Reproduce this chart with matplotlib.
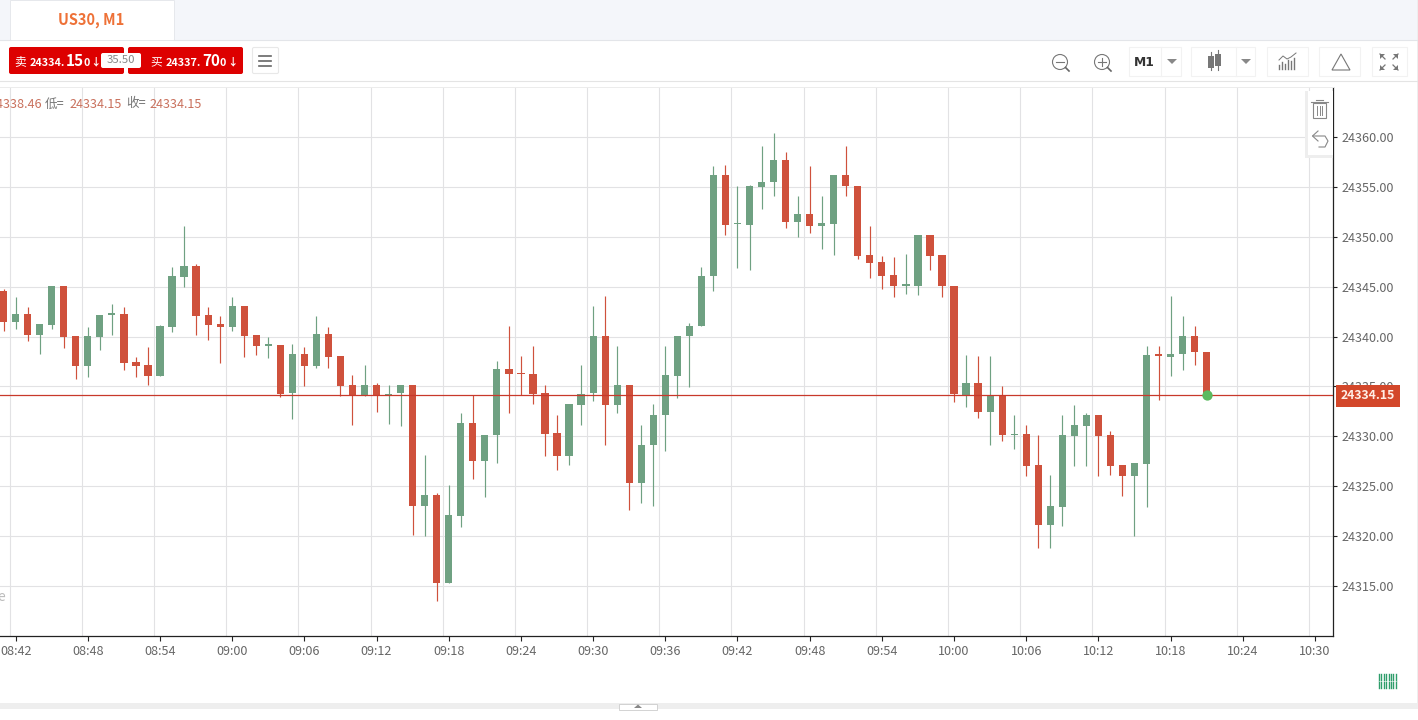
import matplotlib
matplotlib.use('Agg')
import matplotlib.pyplot as plt
from matplotlib.patches import Rectangle, FancyBboxPatch, Circle, Polygon

plt.rcParams['font.family'] = ['Noto Sans CJK SC', 'DejaVu Sans']

# first candle is 08:41, one candle per minute up to 10:21
first_minute = 8 * 60 + 41
opens = [344.6, 341.5, 342.3, 340.2, 341.2, 345.1, 340.1, 337.0, 340.0, 342.2,
         342.3, 337.4, 337.1, 336.0, 341.0, 346.0, 347.1, 342.2, 341.3, 341.0,
         343.1, 340.2, 339.1, 339.2, 334.3, 338.3, 337.0, 340.3, 338.1, 335.1,
         334.0, 335.1, 334.0, 334.3, 335.1, 323.0, 324.1, 315.3, 322.0, 331.3,
         327.5, 330.1, 336.7, 336.3, 336.2, 334.3, 330.3, 328.0, 333.1, 334.3,
         340.1, 333.1, 335.1, 325.3, 329.1, 332.1, 336.0, 340.1, 341.1, 346.1,
         356.2, 351.25, 351.2, 355.0, 355.5, 357.7, 351.45, 352.3, 351.05, 351.25,
         356.15, 355.1, 348.15, 347.5, 346.15, 345.1, 345.05, 350.15, 348.15, 345.1,
         334.15, 335.3, 332.4, 334.1, 330.15, 330.2, 327.1, 321.15, 322.95, 330.05,
         331.05, 332.1, 330.1, 327.1, 326.05, 327.25, 338.2, 338.0, 338.25, 340.1,
         338.46]
highs = [344.8, 344.0, 343.0, 341.3, 345.1, 345.1, 340.1, 341.0, 342.2, 343.3,
         343.0, 338.0, 339.0, 341.2, 347.0, 351.1, 347.3, 343.0, 342.1, 344.0,
         343.1, 340.2, 340.0, 339.2, 339.3, 339.0, 342.1, 341.0, 338.1, 336.1,
         337.1, 335.3, 335.1, 335.1, 335.1, 328.1, 324.3, 325.1, 332.3, 334.1,
         330.1, 337.6, 341.1, 338.1, 339.1, 335.1, 332.1, 333.2, 337.1, 343.1,
         344.1, 339.1, 335.1, 331.1, 333.2, 339.1, 340.1, 341.4, 347.0, 357.1,
         357.2, 355.1, 355.2, 359.1, 360.35, 358.5, 354.1, 357.1, 354.1, 356.15,
         359.1, 355.1, 351.1, 348.1, 348.0, 348.3, 350.15, 350.15, 348.15, 345.1,
         338.2, 338.05, 338.05, 335.05, 332.1, 331.1, 330.1, 326.1, 332.1, 333.15,
         332.3, 332.1, 330.5, 327.1, 327.3, 339.1, 339.1, 344.1, 342.1, 341.1,
         338.46]
lows = [340.6, 340.8, 339.6, 338.3, 340.8, 338.9, 335.7, 335.9, 338.7, 340.2,
        336.6, 335.9, 335.1, 336.0, 340.5, 345.0, 340.2, 339.7, 337.3, 340.6,
        338.0, 338.2, 337.9, 333.9, 331.7, 335.0, 336.8, 336.8, 334.0, 331.1,
        334.0, 332.4, 331.2, 331.0, 320.1, 320.0, 313.5, 315.3, 320.9, 325.7,
        323.9, 327.3, 332.3, 334.1, 333.2, 328.0, 326.6, 327.1, 331.1, 333.5,
        329.1, 332.3, 322.6, 323.3, 323.0, 328.5, 333.8, 334.9, 341.1, 344.6,
        350.2, 346.9, 346.7, 352.8, 354.1, 350.85, 350.0, 350.4, 348.75, 348.2,
        354.05, 347.75, 345.9, 344.75, 344.0, 344.3, 344.15, 346.7, 344.0, 333.4,
        332.9, 331.85, 329.1, 329.55, 328.7, 326.0, 318.8, 318.8, 321.05, 327.05,
        327.05, 326.0, 326.15, 324.05, 320.0, 322.95, 333.65, 336.0, 336.65, 337.15,
        334.15]
closes = [341.5, 342.3, 340.2, 341.3, 345.1, 340.0, 337.0, 340.1, 342.2, 342.3,
          337.3, 337.0, 336.0, 341.1, 346.1, 347.1, 342.1, 341.2, 341.0, 343.1,
          340.1, 339.1, 339.2, 334.2, 338.3, 337.0, 340.3, 338.0, 335.0, 334.0,
          335.1, 334.0, 334.2, 335.1, 323.0, 324.1, 315.3, 322.1, 331.3, 327.5,
          330.1, 336.7, 336.2, 336.2, 334.2, 330.2, 328.0, 333.2, 334.2, 340.1,
          333.1, 335.1, 325.3, 329.1, 332.1, 336.1, 340.1, 341.1, 346.1, 356.2,
          351.2, 351.3, 355.1, 355.5, 357.7, 351.45, 352.3, 351.05, 351.35, 356.15,
          355.05, 348.05, 347.4, 346.05, 345.05, 345.15, 350.15, 348.05, 345.05, 334.2,
          335.3, 332.4, 334.1, 330.1, 330.2, 327.05, 321.15, 323.05, 330.1, 331.1,
          332.1, 330.05, 327.05, 326.05, 327.3, 338.2, 338.1, 338.3, 340.1, 338.5,
          334.15]
base_price = 24000
last_price = 24334.15

y_ticks = [24315, 24320, 24325, 24330, 24335, 24340, 24345, 24350, 24355, 24360]
x_labels = ['08:42', '08:48', '08:54', '09:00', '09:06', '09:12', '09:18', '09:24', '09:30',
            '09:36', '09:42', '09:48', '09:54', '10:00', '10:06', '10:12', '10:18', '10:24', '10:30']

UP = '#6fa182'
DOWN = '#cf513c'


def to_minutes(label):
    h, m = label.split(':')
    return int(h) * 60 + int(m)


fig = plt.figure(figsize=(14.18, 7.2), dpi=100, facecolor='white')
W, H = 1418.0, 720.0

ax = fig.add_axes([0, (H - 636) / H, 1333 / W, (636 - 87) / H])
ax.set_xlim(520.7, 631.5)
ax.set_ylim(24310.0, 24365.0)

# grid is shifted half a minute left of the tick marks in the original
for lab in x_labels:
    ax.axvline(to_minutes(lab) - 0.5, color='#e2e2e4', lw=0.8, zorder=1)
for p in y_ticks:
    ax.axhline(p, color='#e2e2e4', lw=0.8, zorder=1)

for i in range(len(opens)):
    t = first_minute + i
    o = base_price + opens[i]
    c = base_price + closes[i]
    col = DOWN if closes[i] < opens[i] else UP
    ax.vlines(t, base_price + lows[i], base_price + highs[i], color=col, lw=0.85, zorder=2)
    body = max(abs(c - o), 0.12)
    ax.bar(t, body, bottom=min(o, c), width=0.6, color=col, lw=0, zorder=3)

ax.axhline(last_price, color='#c8392b', lw=0.9, zorder=4)
ax.scatter([first_minute + len(opens) - 1], [last_price], s=55, color='#5cba5f', lw=0, zorder=5)

ax.spines['left'].set_visible(False)
ax.spines['top'].set_visible(False)
ax.spines['right'].set_color('#222222')
ax.spines['bottom'].set_color('#222222')
ax.spines['right'].set_linewidth(0.9)
ax.spines['bottom'].set_linewidth(0.9)
ax.yaxis.tick_right()
ax.set_yticks(y_ticks)
ax.set_yticklabels(['%.2f' % p for p in y_ticks])
ax.set_xticks([to_minutes(lab) for lab in x_labels])
ax.set_xticklabels(x_labels)
ax.tick_params(axis='both', colors='#222222', labelcolor='#666666', labelsize=9.1,
               length=3.5, width=0.8)
ax.tick_params(axis='x', pad=3)
ax.tick_params(axis='y', length=3, pad=3)

# everything around the chart, in screen pixels
ui = fig.add_axes([0, 0, 1, 1], facecolor='none')
ui.set_xlim(0, W)
ui.set_ylim(H, 0)
ui.axis('off')

# tab bar
ui.add_patch(Rectangle((0, 0), W, 39.5, fc='#f4f6fa', ec='none'))
ui.add_patch(Rectangle((10, 0), 164, 39.5, fc='white', ec='#e6e8ec', lw=0.7))
ui.plot([0, 10], [39.5, 39.5], color='#e3e5e9', lw=0.8)
ui.plot([174, W], [39.5, 39.5], color='#e3e5e9', lw=0.8)
ui.text(91.5, 19.5, 'US30, M1', color='#ee7137', fontsize=10.5, fontweight='bold', ha='center', va='center')

# toolbar
ui.plot([0, W], [81, 81], color='#e4e4e4', lw=0.8)
ui.add_patch(Rectangle((0, 81.5), W, 5.5, fc='white', ec='none'))
ui.plot([0, 1333], [87.3, 87.3], color='#ececec', lw=0.7)


def red_button(x0, x1):
    ui.add_patch(FancyBboxPatch((x0 + 2, 49), x1 - x0 - 4, 23, boxstyle='round,pad=2',
                                fc='#dd0000', ec='none'))


red_button(9, 124)
red_button(128, 243)
ui.add_patch(FancyBboxPatch((103, 55), 36, 11, boxstyle='round,pad=2', fc='white', ec='none'))
ui.text(121, 60, '35.50', color='#888888', fontsize=8.2, ha='center', va='center')
button_texts = [(14, '卖', 30, '24334.', 66, '15', 84, '0', 90, '↓'),
                (150, '买', 166, '24337.', 202, '70', 220, '0', 227, '↓')]
for xs, side, xa, small, xb, big, xc, tail, xd, arrow in button_texts:
    ui.text(xs, 62, side, color='white', fontsize=8.5, va='center')
    ui.text(xa, 62.5, small, color='white', fontsize=7.8, fontweight='bold', va='center')
    ui.text(xb, 61, big, color='white', fontsize=11, fontweight='bold', va='center')
    ui.text(xc, 62.5, tail, color='white', fontsize=7.8, fontweight='bold', va='center')
    ui.text(xd, 62.5, arrow, color='white', fontsize=7.5, fontweight='bold', va='center')

ui.add_patch(FancyBboxPatch((254, 49), 23, 23, boxstyle='round,pad=1.5', fc='white', ec='#e8e8e8', lw=0.8))
for yy in [56, 61, 66]:
    ui.plot([259, 271], [yy, yy], color='#666666', lw=1.2)

# zoom icons
for cx, plus in [(1060, False), (1102, True)]:
    ui.add_patch(Circle((cx, 62), 7.5, fc='none', ec='#777777', lw=0.8))
    ui.plot([cx + 5.5, cx + 9], [67.5, 71], color='#666666', lw=1.2)
    ui.plot([cx - 4, cx + 4], [62, 62], color='#777777', lw=0.8)
    if plus:
        ui.plot([cx, cx], [58, 66], color='#777777', lw=0.8)

# toolbar boxes
for x0, x1 in [(1129, 1181), (1191, 1255), (1267, 1308), (1319, 1360), (1372, 1407)]:
    ui.add_patch(Rectangle((x0, 47), x1 - x0, 29, fc='white', ec='#f2f2f2', lw=0.8))
ui.plot([1160.5, 1160.5], [47, 76], color='#f2f2f2', lw=0.8)
ui.plot([1235.5, 1235.5], [47, 76], color='#f2f2f2', lw=0.8)
ui.text(1144, 62, 'M1', color='#333333', fontsize=8.8, fontweight='bold', ha='center', va='center',
        family='DejaVu Sans')
for cx in [1172, 1246]:
    ui.add_patch(Polygon([(cx - 5, 59), (cx + 5, 59), (cx, 64)], fc='#888888', ec='none'))
# candle icon
for cx, top, bot in [(1211, 52, 70), (1218, 50, 70)]:
    ui.plot([cx, cx], [top, bot], color='#777777', lw=0.8)
ui.add_patch(Rectangle((1208, 56), 6, 12, fc='#777777', ec='none'))
ui.add_patch(Rectangle((1215, 54), 6, 12, fc='#777777', ec='none'))
# indicators icon
for k, hh in enumerate([4, 7, 5, 9, 8, 11]):
    ui.plot([1279 + k * 3, 1279 + k * 3], [69, 69 - hh], color='#777777', lw=1.0)
ui.plot([1279, 1283, 1287, 1291, 1296], [60, 56, 59, 57, 53], color='#777777', lw=0.7)
# triangle and fullscreen
ui.add_patch(Polygon([(1332, 70), (1350, 70), (1341, 54)], fc='none', ec='#777777', lw=0.8))
for sx, sy in [(-1, -1), (1, -1), (-1, 1), (1, 1)]:
    ax0, ay0 = 1389 + sx * 9, 62 + sy * 8
    ui.add_patch(Polygon([(ax0, ay0), (ax0 - sx * 5, ay0), (ax0, ay0 - sy * 5)], fc='#777777', ec='none'))
    ui.plot([ax0, ax0 - sx * 5], [ay0, ay0 - sy * 5], color='#777777', lw=0.9)

# values line under the toolbar
ui.text(42, 104, '24338.46', color='#c9705c', fontsize=9.1, ha='right', va='center')
ui.text(45, 104, '低=', color='#777777', fontsize=9.1, va='center')
ui.text(70, 104, '24334.15', color='#c9705c', fontsize=9.1, va='center')
ui.text(126, 104, '收=', color='#777777', fontsize=9.1, va='center')
ui.text(150, 104, '24334.15', color='#c9705c', fontsize=9.1, va='center')

# trash / undo panel
ui.add_patch(Rectangle((1305, 91), 3, 67, fc='#eeeeee', ec='none'))
ui.add_patch(Rectangle((1305, 155), 28, 3, fc='#eeeeee', ec='none'))
ui.add_patch(Rectangle((1308, 91), 25, 64, fc='white', ec='none'))
ui.add_patch(Rectangle((1313, 103), 13, 15, fc='none', ec='#888888', lw=0.8))
ui.plot([1311, 1328], [102, 102], color='#888888', lw=0.8)
ui.plot([1316, 1323], [100, 100], color='#888888', lw=0.8)
for xx in [1317, 1319.5, 1322]:
    ui.plot([xx, xx], [106, 115], color='#888888', lw=0.7)
ui.plot([1313, 1319, 1325, 1328, 1325, 1319],
        [136, 136, 136, 141, 147, 147], color='#888888', lw=0.8)
ui.plot([1318, 1312.5, 1318], [131, 136, 141], color='#888888', lw=0.8)

# last price tag
ui.add_patch(Rectangle((1336, 385), 64, 22, fc='#d3472a', ec='none'))
ui.text(1368, 395.5, '24334.15', color='#ffeee6', fontsize=8.8, fontweight='bold', ha='center', va='center')

# bottom bits
ui.text(-3, 597, 'e', color='#bbbbbb', fontsize=10, va='center')
for k in range(8):
    xx = 1379 + k * 2.4
    ui.plot([xx, xx], [674, 688], color='#2f9e6b', lw=1.0)
ui.plot([1379, 1396], [680.5, 680.5], color='white', lw=0.4)
ui.add_patch(Rectangle((0, 703), W, 5.5, fc='#eeeeee', ec='none'))
ui.add_patch(Rectangle((619, 704), 38, 6, fc='white', ec='#cccccc', lw=0.6))
ui.add_patch(Polygon([(634, 708), (642, 708), (638, 704.5)], fc='#888888', ec='none'))
ui.add_patch(Rectangle((1417, 0), 1, 708, fc='#eeeeee', ec='none'))

fig.savefig('out.png', dpi=100)
